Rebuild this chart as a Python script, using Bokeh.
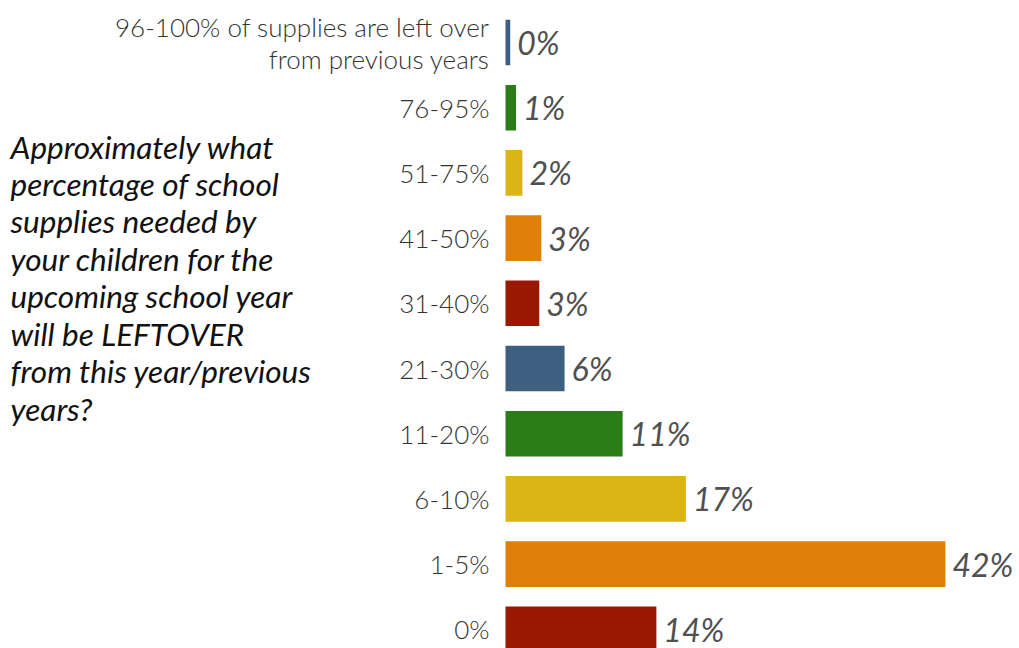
from bokeh.plotting import figure
from bokeh.models import ColumnDataSource, Range1d
from bokeh.core.properties import value
from bokeh.embed import file_html
from bokeh.resources import INLINE

categories = ["96-100% of supplies are left over\nfrom previous years", "76-95%", "51-75%",
              "41-50%", "31-40%", "21-30%", "11-20%", "6-10%", "1-5%", "0%"]
values = [0.45, 1.0, 1.6, 3.4, 3.2, 5.6, 11.1, 17.1, 41.7, 14.3]
colors = ["#3d5f80", "#2b7d18", "#dbb418", "#e0800a", "#9b1800",
          "#3d5f80", "#2b7d18", "#dbb418", "#e0800a", "#9b1800"]
question = ("Approximately what\npercentage of school\nsupplies needed by\nyour children for the\n"
            "upcoming school year\nwill be LEFTOVER\nfrom this year/previous\nyears?")

W, H = 1019, 648
pxu = 10.55
x0 = 505
ypx = 65.2
yc0 = 42

pos = list(range(len(categories)))
src = ColumnDataSource(dict(
    y=pos, v=values, c=colors, cat=categories,
    lab=[f"{round(v):d}%" for v in values],
))

p = figure(width=W, height=H, output_backend="svg", toolbar_location=None,
           x_range=Range1d(-x0 / pxu, (W - x0) / pxu),
           y_range=Range1d(9 + (H - (yc0 + 9 * ypx)) / ypx, -yc0 / ypx),
           min_border=0, min_border_left=0, min_border_right=0,
           min_border_top=0, min_border_bottom=0)
p.xaxis.visible = False
p.yaxis.visible = False
p.grid.visible = False
p.outline_line_color = None
p.background_fill_color = "white"

p.hbar(y="y", left=0, right="v", height=0.7, fill_color="c", line_color=None, source=src)

p.text(x=0, y="y", text="cat", source=src, x_offset=-16, text_align="right",
       text_baseline="middle", text_font=value("Lato Light"), text_font_size="26px",
       text_color="#333333", text_line_height=1.0)

p.text(x="v", y="y", text="lab", source=src, x_offset=7, text_align="left",
       text_baseline="middle", text_font=value("Lato"), text_font_style="italic",
       text_font_size="32px", text_color="#505050")

p.text(x=[(10 - x0) / pxu], y=[(127 - yc0) / ypx], text=[question], text_align="left",
       text_baseline="top", text_font=value("Lato"), text_font_style="italic",
       text_font_size="31.5px", text_color="#111111", text_line_height=0.985)

open("out.html", "w").write(file_html(p, INLINE))
